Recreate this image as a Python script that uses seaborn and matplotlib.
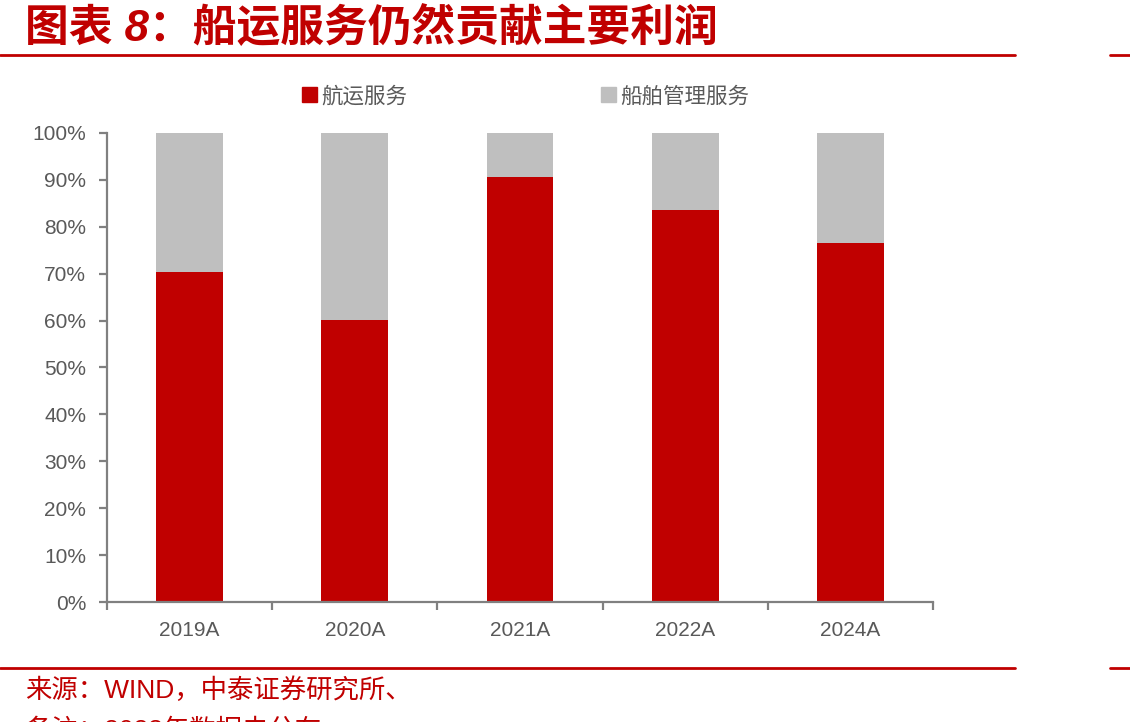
import matplotlib.pyplot as plt
import seaborn as sns
import pandas as pd
from matplotlib.lines import Line2D
from matplotlib.patches import Patch
from matplotlib.ticker import FixedLocator

# ==============================
# Data
# ==============================
years = ["2019A", "2020A", "2021A", "2022A", "2024A"]
shipping = [70.3, 60.1, 90.6, 83.6, 76.5]      # 航运服务 share, %
total = [100, 100, 100, 100, 100]               # 航运 + 船舶管理
yticks = [0, 10, 20, 30, 40, 50, 60, 70, 80, 90, 100]

df = pd.DataFrame({"year": years, "shipping": shipping, "total": total})

RED = "#C00000"
GREY = "#BFBFBF"
TXT = "#595959"
AXIS = "#808080"

sns.set_style("white")
plt.rcParams["font.family"] = ["Liberation Sans", "Noto Sans CJK SC", "DejaVu Sans"]

fig = plt.figure(figsize=(11.3, 7.22), dpi=100)
ax = fig.add_axes([0.0947, 0.1662, 0.731, 0.6496])

# stacked bars: grey total first, red share on top of it
sns.barplot(data=df, x="year", y="total", color=GREY, saturation=1, width=0.405,
            linewidth=0, ax=ax)
sns.barplot(data=df, x="year", y="shipping", color=RED, saturation=1, width=0.405,
            linewidth=0, ax=ax)

ax.set_xlim(-0.5, 4.5)
ax.set_ylim(0, 100)
ax.set_xlabel("")
ax.set_ylabel("")
ax.set_yticks(yticks)
ax.set_yticklabels([f"{v}%" for v in yticks])

for s in ["top", "right"]:
    ax.spines[s].set_visible(False)
for s in ["left", "bottom"]:
    ax.spines[s].set_color(AXIS)
    ax.spines[s].set_linewidth(1.6)

ax.tick_params(axis="y", which="major", direction="out", length=6, width=1.6,
               color=AXIS, labelcolor=TXT, labelsize=15, pad=9, left=True)
ax.xaxis.set_minor_locator(FixedLocator([-0.5, 0.5, 1.5, 2.5, 3.5, 4.5]))
ax.tick_params(axis="x", which="minor", direction="out", length=6, width=1.6,
               color=AXIS, bottom=True)
ax.tick_params(axis="x", which="major", length=0, labelcolor=TXT, labelsize=15, pad=14)

# legend
handles = [Patch(color=RED, label="航运服务"), Patch(color=GREY, label="船舶管理服务")]
ax.legend(handles=handles, loc="center", bbox_to_anchor=(0.4650, 0.8657),
          bbox_transform=fig.transFigure, ncol=2, frameon=False,
          handlelength=0.7, handleheight=0.7, handletextpad=0.2,
          columnspacing=9.0, fontsize=15.5, labelcolor=TXT)

# header / footer
fig.text(25 / 1130, 1 - 28 / 722, "图表 8：船运服务仍然贡献主要利润", color=RED,
         fontsize=31.5, fontweight="bold", fontstyle="italic", va="center", ha="left")
for y in [55, 668]:
    fig.add_artist(Line2D([0, 1015 / 1130], [1 - y / 722] * 2, color=RED, lw=2))
    fig.add_artist(Line2D([1110 / 1130, 1], [1 - y / 722] * 2, color=RED, lw=2))
fig.text(25 / 1130, 1 - 690 / 722, "来源：WIND，中泰证券研究所、", color=RED,
         fontsize=19, va="center", ha="left")
fig.text(25 / 1130, 1 - 731 / 722, "备注：2023年数据未公布", color=RED,
         fontsize=19, va="center", ha="left")

fig.savefig("out.png", dpi=100)
